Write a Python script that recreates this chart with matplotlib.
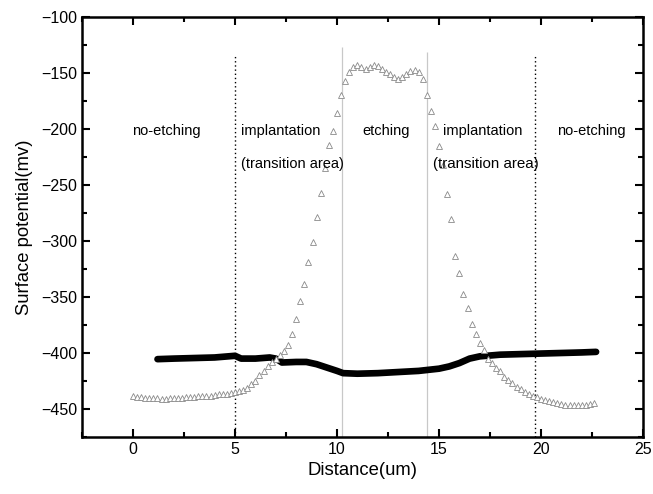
import numpy as np
import matplotlib
matplotlib.use("Agg")
import matplotlib.pyplot as plt
from matplotlib.ticker import MultipleLocator

plt.rcParams["font.family"] = ["Liberation Sans", "DejaVu Sans"]

# open triangles: surface potential sampled every 0.2 um
tri_x = np.round(np.arange(0, 22.7, 0.2), 1)
tri_y = [
    -438, -439, -439, -440, -440, -440, -440.5, -441, -441, -440.5,
    -440, -440, -440, -439.5, -439, -439, -438.5, -438, -438, -438,
    -437.5, -437, -437, -436.5, -436,
    -435, -434, -433, -431, -428, -425, -420, -416, -412, -408,
    -405, -402, -398, -393, -383, -370, -354, -338, -319, -301,
    -279, -257, -235, -214, -202, -186, -170, -157, -149, -144.5,
    -143, -144.5, -146, -145, -143, -144, -146, -149, -151, -154,
    -155, -154, -151, -148, -147, -149, -155, -170, -184, -197,
    -215, -232, -258, -280, -313, -329, -347, -360, -374, -383,
    -391, -397.5, -405, -409, -413, -416, -421, -424, -427, -430,
    -432, -434.5, -436.5, -438, -439.5, -441, -442, -443, -444, -445,
    -445.5, -446, -446, -446.5, -446.5, -446.5, -446, -445.5, -445,
]

# filled trace (dense black points)
blk_x = [1.2, 2, 3, 4, 5, 5.3, 6, 6.7, 7.0, 7.3, 8, 8.5, 9, 9.5, 10, 10.3,
         11, 12, 13, 14, 15, 15.5, 16, 16.5, 17, 18, 19, 20, 21, 22, 22.7]
blk_y = [-405.5, -405, -404.5, -404, -402.5, -405, -405, -404, -405, -408.5,
         -408, -408, -410, -413, -416, -418, -418.5, -418, -417, -416, -414,
         -412, -409, -405, -403, -401.5, -401, -400.5, -400, -399.5, -399]

# region boundaries
dot_x = [5.0, 19.7]
dot_top = [-133, -134]
gray_x = [10.25, 14.4]
gray_top = [-127, -131]

fig = plt.figure(figsize=(6.53, 4.94), dpi=100)
ax = fig.add_axes([0.1256, 0.1154, 0.8591, 0.8502])

ax.vlines(dot_x, -475, dot_top, colors="black", linestyles=(0, (1, 2)), linewidth=1.0)
ax.vlines(gray_x, -475, gray_top, colors="#c8c8c8", linewidth=0.9)

ax.plot(blk_x, blk_y, color="black", linewidth=4.8, solid_capstyle="round")
ax.plot(tri_x, tri_y, linestyle="none", marker="^", markersize=4.2,
        markerfacecolor="white", markeredgecolor="#8a8a8a", markeredgewidth=0.6)

fs = 10.5
ax.text(1.65, -202, "no-etching", ha="center", va="center", fontsize=fs)
ax.text(5.3, -202, "implantation", ha="left", va="center", fontsize=fs)
ax.text(5.3, -231, "(transition area)", ha="left", va="center", fontsize=fs)
ax.text(12.4, -202, "etching", ha="center", va="center", fontsize=fs)
ax.text(17.15, -202, "implantation", ha="center", va="center", fontsize=fs)
ax.text(17.3, -231, "(transition area)", ha="center", va="center", fontsize=10.9)
ax.text(22.45, -202, "no-etching", ha="center", va="center", fontsize=fs)

ax.set_xlim(-2.5, 25)
ax.set_ylim(-475, -100)
ax.xaxis.set_major_locator(MultipleLocator(5))
ax.xaxis.set_minor_locator(MultipleLocator(2.5))
ax.yaxis.set_major_locator(MultipleLocator(50))
ax.yaxis.set_minor_locator(MultipleLocator(25))
ax.tick_params(which="both", direction="in", top=True, right=True,
               labelsize=11.5, width=1.5)
ax.tick_params(which="major", length=6)
ax.tick_params(which="minor", length=3.5)
for s in ax.spines.values():
    s.set_linewidth(1.8)

ax.set_xlabel("Distance(um)", fontsize=13.3)
ax.set_ylabel("Surface potential(mv)", fontsize=13.3, labelpad=6)

fig.savefig("out.png", dpi=100)
